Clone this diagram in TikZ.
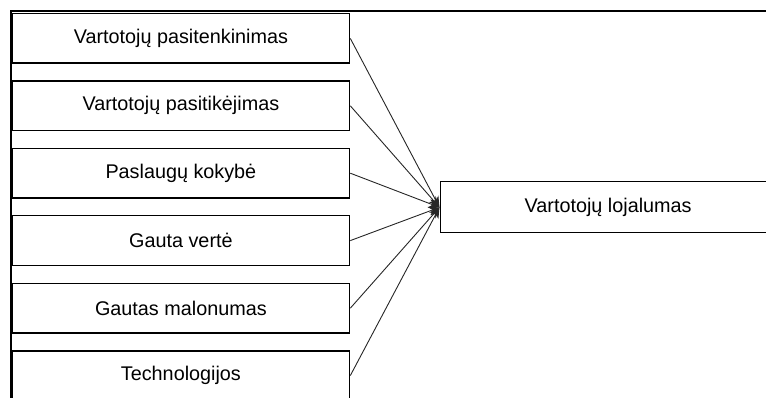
\documentclass[tikz,border=0pt]{standalone}
\usepackage{fontspec}
\setmainfont{Liberation Sans}
\usetikzlibrary{arrows.meta}
\begin{document}
\begin{tikzpicture}[x=1pt,y=-1pt,
  factor/.style={draw=black,line width=1.3pt,fill=white,minimum width=337.5pt,minimum height=49.5pt,inner sep=0pt,font=\fontsize{19.8}{22}\selectfont,anchor=north west},
  result/.style={factor,minimum width=336pt,minimum height=51pt},
  link/.style={draw=black!85,line width=0.9pt,-{Stealth[length=11pt,width=9pt]}},
  frame/.style={draw=black,line width=2pt}]
\useasboundingbox (0,0) rectangle (766,398);
\clip (0,0) rectangle (766,398);
% outer frame edges
\draw[frame] (11,420) -- (11,11.5) -- (800,11.5);
% factor boxes
\node[factor] (f1) at (11.5,13) {Vartotojų pasitenkinimas};
\node[factor] (f2) at (11.5,80.4) {Vartotojų pasitikėjimas};
\node[factor] (f3) at (11.5,147.8) {Paslaugų kokybė};
\node[factor] (f4) at (11.5,215.2) {Gauta vertė};
\node[factor] (f5) at (11.5,282.8) {Gautas malonumas};
\node[factor] (f6) at (11.5,350.2) {Technologijos};
% outcome box
\node[result] (r) at (439.5,181.2) {Vartotojų lojalumas};
% influence arrows
\foreach \f in {f1,f2,f3,f4,f5,f6}
  \draw[link] (\f.east) -- (r.west);
\end{tikzpicture}
\end{document}
